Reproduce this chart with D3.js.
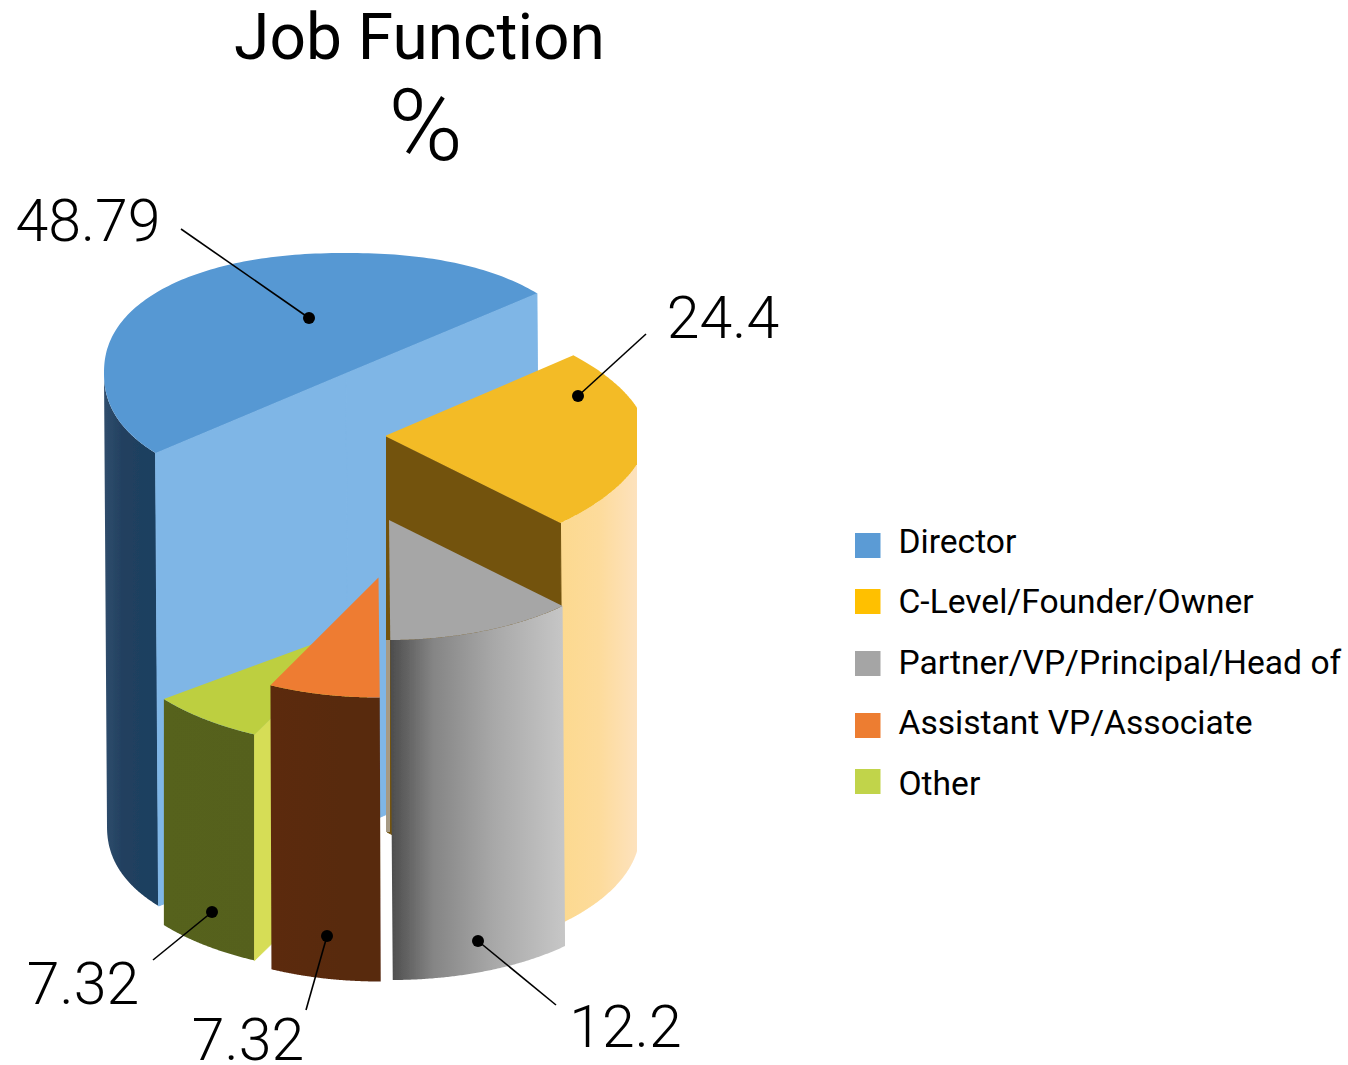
<!DOCTYPE html>
<html><head><meta charset="utf-8">
<script src="https://cdn.jsdelivr.net/npm/d3@7/dist/d3.min.js"></script>
<style>html,body{margin:0;padding:0;background:#fff;overflow:hidden}svg{display:block}text{font-family:Roboto,sans-serif;fill:#000}</style>
</head><body><svg id="c" width="1348" height="1065"></svg>
<script>
const categories = ["Director","C-Level/Founder/Owner","Partner/VP/Principal/Head of","Assistant VP/Associate","Other"];
const values = [48.79,24.4,12.2,7.32,7.32];
const valueLabels = ["48.79","24.4","12.2","7.32","7.32"];
const legendColors = ["#5b9bd5","#ffc000","#a5a5a5","#ed7d31","#c1d44a"];
const topColors = ["#5698d3","#f3bb27","#a6a6a6","#ee7c30","#bdcf40"];
const faceColors = ["#7fb6e6","#73530f","#a6a6a6","#ee7c30","#d6dd57"];
const sideStops = [
  [["0","#2f4d6c"],["0.4","#213f5f"],["1","#1d3f60"]],
  [["0","#fcd98f"],["0.5","#fddb9b"],["1","#fde2bd"]],
  [["0","#4c4c4c"],["0.25","#858585"],["0.6","#a8a8a8"],["1","#c6c6c6"]],
  [["0","#5b2b10"],["1","#58290f"]],
  [["0","#56621f"],["1","#55611e"]]
];
// projected geometry of each exploded wedge
const cx=[346,385,389,378.5,367.5], cy=[373,436,520,577.5,624];
const rx=[242,262,249,246,257], ry=[120,126,120,120,123];
const shapeN=[2.2,1.8,2,2,2];
const bottomRx=[242,253,249,246,257], bottomN=[2.2,2,2,2,2];
const depth=[453,396,340,284,226];
const foot=[3,2,2.5,1,0];
const spreadStart=[-2.2,0,0,0,0], spreadEnd=[2.4,0,0,0,0];
const faceInset=[-5,0,0,0,0];
const clipL=[0,386,388,0,0], clipR=[538,637,565,381,1348];
const faceEnds=[["start","end"],["end"],[],[],["start"]];
const drawOrder=[0,1,4,3,2];
const seam={slice:1,x:386,width:4,y0:640,y1:832,fill:"#a69a84"};
const leaders=[[181,229,309,318],[646,334,578,396],[556,1005,478,941],[306,1010,327,936],[153,960,212,912]];
const labelPos=[[88,241],[723,338],[625.5,1047],[248,1060],[83,1004]];
const legendSwatchY=[533,589,651,713,769], legendTextY=[553,613,674,734,795];

const svg=d3.select("#c"), defs=svg.append("defs");
const deg=Math.PI/180, TAU=2*Math.PI;
const pie=d3.pie().sort(null).startAngle(232.4*deg).endAngle((232.4+360)*deg)(values);
const blur=defs.append("filter").attr("id","soft").attr("x","-5%").attr("y","-5%").attr("width","110%").attr("height","110%");
blur.append("feGaussianBlur").attr("stdDeviation",0.55);

const gPie=svg.append("g").attr("filter","url(#soft)");
const line=d3.line();
const spow=(v,p)=>Math.sign(v)*Math.pow(Math.abs(v),p);
drawOrder.forEach(i=>{
  const d=pie[i];
  const shift=d.startAngle>=TAU?TAU:0;
  const s=d.startAngle-shift+spreadStart[i]*deg, e=d.endAngle-shift+spreadEnd[i]*deg;
  const P=(a,h,k=1)=>{
    const p=2/(h?bottomN[i]:shapeN[i]), r=h?bottomRx[i]:rx[i];
    return [cx[i]+(h?foot[i]:0)+k*r*spow(Math.sin(a),p), cy[i]+(h||0)-k*ry[i]*spow(Math.cos(a),p)];
  };
  defs.append("clipPath").attr("id","cl"+i).append("rect")
    .attr("x",clipL[i]).attr("y",0).attr("width",clipR[i]-clipL[i]).attr("height",1065);
  const g=gPie.append("g").attr("clip-path",`url(#cl${i})`);
  // curved outer wall: only the part facing the viewer
  const a0=Math.max(s,90*deg), a1=Math.min(e,270*deg);
  if(a1>a0){
    const angs=d3.range(0,121).map(t=>a0+(a1-a0)*t/120);
    const xs=angs.map(a=>P(a,0)[0]);
    const gr=defs.append("linearGradient").attr("id","side"+i).attr("gradientUnits","userSpaceOnUse")
      .attr("x1",d3.min(xs)).attr("x2",Math.min(d3.max(xs),clipR[i])).attr("y1",0).attr("y2",0);
    sideStops[i].forEach(st=>gr.append("stop").attr("offset",st[0]).attr("stop-color",st[1]));
    const pts=angs.map(a=>P(a,0)).concat(angs.slice().reverse().map(a=>P(a,depth[i])));
    g.append("path").attr("d",line(pts)+"Z").attr("fill",`url(#side${i})`);
  }
  // flat cut faces
  faceEnds[i].forEach(which=>{
    const a=which==="start"?s:e;
    const q=[P(a,0,0),P(a,0,1),P(a,depth[i],1),P(a,depth[i]-faceInset[i],0)];
    g.append("path").attr("d",line(q)+"Z").attr("fill",faceColors[i]).attr("stroke",faceColors[i]).attr("stroke-width",1);
  });
  // top
  const topPts=[P(0,0,0)].concat(d3.range(0,161).map(t=>P(s+(e-s)*t/160,0)));
  g.append("path").attr("d",line(topPts)+"Z").attr("fill",topColors[i]);
  if(seam.slice===i){
    g.append("rect").attr("x",seam.x).attr("y",seam.y0).attr("width",seam.width).attr("height",seam.y1-seam.y0).attr("fill",seam.fill);
  }
});

const gL=svg.append("g");
leaders.forEach((l,i)=>{
  gL.append("line").attr("x1",l[0]).attr("y1",l[1]).attr("x2",l[2]).attr("y2",l[3]).attr("stroke","#000").attr("stroke-width",1.6);
  gL.append("circle").attr("cx",l[2]).attr("cy",l[3]).attr("r",6).attr("fill","#000");
  gL.append("text").attr("x",labelPos[i][0]).attr("y",labelPos[i][1]).attr("text-anchor","middle")
    .attr("font-size",59).attr("font-weight",300).text(valueLabels[i]);
});

svg.append("text").attr("x",419.5).attr("y",59).attr("text-anchor","middle").attr("font-size",64).text("Job Function");
svg.append("text").attr("x",425.5).attr("y",160).attr("text-anchor","middle").attr("font-size",101).attr("font-weight",300).text("%");

const gLeg=svg.append("g");
categories.forEach((c,i)=>{
  gLeg.append("rect").attr("x",855).attr("y",legendSwatchY[i]).attr("width",25.5).attr("height",25).attr("fill",legendColors[i]);
  gLeg.append("text").attr("x",898.5).attr("y",legendTextY[i]).attr("font-size",33.6).text(c);
});
</script></body></html>
